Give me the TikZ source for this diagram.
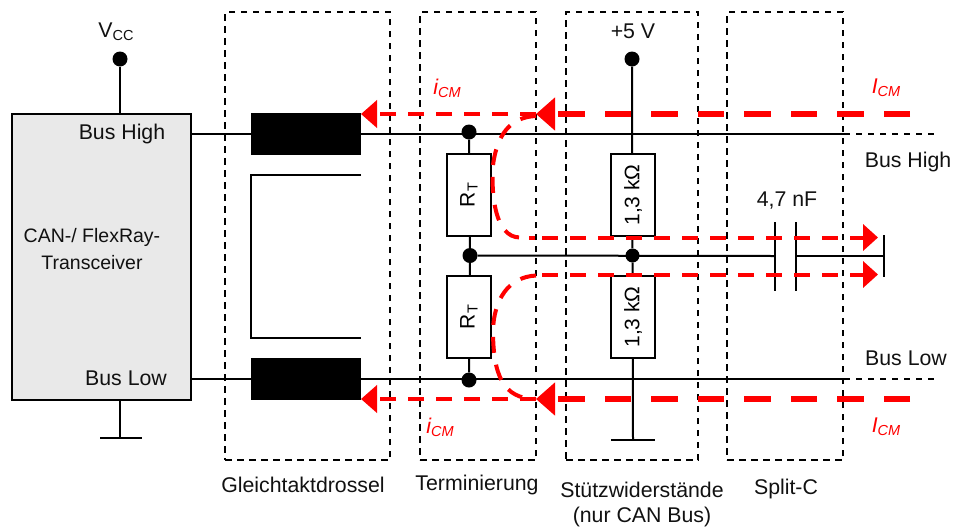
\documentclass[tikz,border=0pt]{standalone}
\usepackage{fontspec}
\setmainfont{Liberation Sans}
\usetikzlibrary{arrows.meta}
\definecolor{boxgrey}{HTML}{E9E9E9}
\definecolor{inkc}{HTML}{111111}
\newcommand{\lowsub}[1]{\raisebox{-3pt}{\fontsize{14.5}{15}\selectfont #1}}
\tikzset{
  wire/.style={line width=2pt,draw=black},
  group/.style={draw=black,line width=1.7pt,dash pattern=on 6.5pt off 5.5pt},
  stub/.style={draw=black,line width=1.7pt,dash pattern=on 6pt off 6pt},
  dot/.style={circle,fill=black,inner sep=0pt,minimum size=15pt},
  res/.style={draw=black,line width=2pt,fill=white,minimum width=44pt,minimum height=82pt,inner sep=0pt},
  choke/.style={fill=black,inner sep=0pt,minimum width=110pt,minimum height=42pt},
  lbl/.style={inner sep=0pt,text=inkc,font=\fontsize{21.3}{25}\selectfont,align=center},
  redlbl/.style={inner sep=0pt,text=red,font=\itshape\fontsize{21.3}{25}\selectfont},
  heavy/.style={draw=red,line width=6.5pt,dash pattern=on 26.5pt off 20pt,-{Triangle[length=19pt,width=32pt,fill=red]}},
  thinred/.style={draw=red,line width=4pt,dash pattern=on 16pt off 12pt,-{Triangle[length=16pt,width=27pt,fill=red]}},
  curvered/.style={draw=red,line width=4pt,dash pattern=on 16pt off 12pt},
}
\begin{document}
\begin{tikzpicture}[x=1pt,y=-1pt]
\useasboundingbox (0,0) rectangle (953,528);
% groups
\node[group,minimum width=165pt,minimum height=448pt,inner sep=0pt] (gA) at (307.5,236) {};
\node[group,minimum width=116pt,minimum height=448pt,inner sep=0pt] (gB) at (478,236) {};
\node[group,minimum width=132pt,minimum height=448pt,inner sep=0pt] (gC) at (632,236) {};
\node[group,minimum width=116pt,minimum height=448pt,inner sep=0pt] (gD) at (785,236) {};
% transceiver
\node[draw=black,line width=2pt,fill=boxgrey,minimum width=179pt,minimum height=286pt,inner sep=0pt] (tr) at (101,257) {};
\node[dot] (vcc) at (120,59) {};
\coordinate (vccin) at (120,114);
\coordinate (gndL) at (120,438);
\coordinate (gndLs) at (120,400);
\coordinate (gndLa) at (100,438);
\coordinate (gndLb) at (142,438);
\draw[wire] (vcc) -- (vccin);
\draw[wire] (gndLs) -- (gndL);
\draw[wire] (gndLa) -- (gndLb);
% chokes
\node[choke] (chH) at (306,134) {};
\node[choke] (chL) at (306,379) {};
\coordinate (cA) at (361,175);
\coordinate (cB) at (251,175);
\coordinate (cC) at (251,338);
\coordinate (cD) at (361,338);
\draw[wire] (cA) -- (cB) -- (cC) -- (cD);
% bus wires
\coordinate (hL) at (190.5,134);
\coordinate (hR) at (844,134);
\coordinate (hE) at (935,134);
\coordinate (lL) at (190.5,379);
\coordinate (lR) at (844,379);
\coordinate (lE) at (935,379);
\draw[wire] (hL) -- (hR);
\draw[wire] (lL) -- (lR);
\draw[stub] (hR) -- (hE);
\draw[stub] (lR) -- (lE);
\node[choke] at (chH) {};
\node[choke] at (chL) {};
% termination
\node[dot] (dT) at (469,132) {};
\node[dot] (dM) at (470,255.5) {};
\node[dot] (dB) at (469,380) {};
\node[dot,minimum size=14pt] (dM2) at (632.5,255.5) {};
\node[dot] (v5) at (632,59) {};
\coordinate (gndR) at (633,440);
\coordinate (gndRa) at (611,440);
\coordinate (gndRb) at (655,440);
\draw[wire] (dT) -- (dM);
\draw[wire] (dM) -- (dB);
\draw[wire] (v5) -- (dM2);
\draw[wire] (dM2) -- (gndR);
\draw[wire] (gndRa) -- (gndRb);
\node[res] (rt1) at (469,195) {\rotatebox{90}{\fontsize{21}{24}\selectfont R\lowsub{T}}};
\node[res] (rt2) at (469,317) {\rotatebox{90}{\fontsize{21}{24}\selectfont R\lowsub{T}}};
\node[res] (r1) at (633,195) {\rotatebox{90}{\fontsize{21}{24}\selectfont 1,3 k\symbol{"03A9}}};
\node[res] (r2) at (633,317) {\rotatebox{90}{\fontsize{21}{24}\selectfont 1,3 k\symbol{"03A9}}};
% split C
\coordinate (c1) at (774.5,256);
\coordinate (c2) at (796,256);
\coordinate (c1a) at (774.5,222);
\coordinate (c1b) at (774.5,291);
\coordinate (c2a) at (796,222);
\coordinate (c2b) at (796,291);
\coordinate (e) at (884,256);
\coordinate (ea) at (884,235);
\coordinate (eb) at (884,277);
\draw[wire] (dM) -- (c1);
\draw[wire] (c2) -- (e);
\draw[wire] (c1a) -- (c1b);
\draw[wire] (c2a) -- (c2b);
\draw[wire] (ea) -- (eb);
% red currents
\coordinate (hS) at (910,114);
\coordinate (hT) at (536,114);
\coordinate (hU) at (361,114);
\coordinate (bS) at (910,399);
\coordinate (bT) at (536,399);
\coordinate (bU) at (361,399);
\coordinate (mA) at (878,237.5);
\coordinate (mB) at (878,274.5);
\draw[heavy] (hS) -- (hT);
\draw[heavy] (bS) -- (bT);
\draw[thinred] (hT) -- (hU);
\draw[thinred] (bT) -- (bU);
\draw[thinred,-{Triangle[length=15pt,width=26pt,fill=red]}] (542,237.5) -- (mA);
\draw[thinred,-{Triangle[length=15pt,width=26pt,fill=red]}] (542,274.5) -- (mB);
\draw[curvered] (529,237.5) -- (535,237.5);
\draw[curvered] (536,116) .. controls (510,117) and (497,135) .. (493,165) .. controls (491,195) and (495,237.5) .. (520,237.5);
\draw[curvered] (536,275.5) .. controls (508,277) and (494,300) .. (493,330) .. controls (493,375) and (503,399) .. (536,399);
% labels
\node[lbl] (tVcc) at (116,32) {V\lowsub{CC}};
\node[lbl] (t5v) at (633,31) {+5 V};
\node[lbl] (tBH) at (122,133.5) {Bus High};
\node[lbl] (tBL) at (126,378) {Bus Low};
\node[lbl,font=\fontsize{19.5}{24}\selectfont] (tCAN) at (92,249.5) {CAN-/ FlexRay-\\[3pt]Transceiver};
\node[lbl] (tBH2) at (908,162) {Bus High};
\node[lbl] (tBL2) at (906,358) {Bus Low};
\node[lbl] (tC) at (787,201) {4,7 nF};
\node[lbl] (t1) at (303,485) {Gleichtaktdrossel};
\node[lbl] (t2) at (477,485) {Terminierung};
\node[lbl] (t3) at (642,504) {Stützwiderstände\\(nur CAN Bus)};
\node[lbl] (t4) at (786,489) {Split-C};
\node[redlbl] (i1) at (447,88) {i\lowsub{CM}};
\node[redlbl] (i2) at (440,427) {i\lowsub{CM}};
\node[redlbl] (i3) at (886,88) {I\lowsub{CM}};
\node[redlbl] (i4) at (886,427) {I\lowsub{CM}};
\end{tikzpicture}
\end{document}
